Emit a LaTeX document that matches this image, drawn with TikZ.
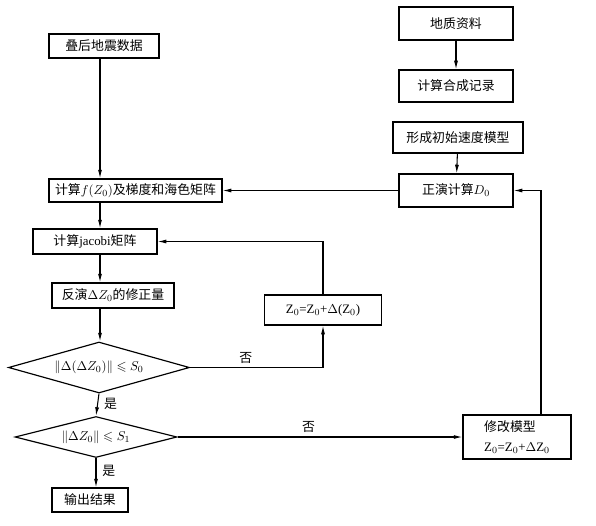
\documentclass[tikz,border=0pt]{standalone}
\usepackage{amsmath,amssymb}
\usepackage{fontspec}
\setmainfont{Liberation Serif}
\newfontfamily\cjk{Noto Sans CJK SC}
\usetikzlibrary{shapes.geometric,arrows.meta}

\begin{document}
\begin{tikzpicture}[
    x=0.03cm, y=-0.03cm,
    box/.style={
      rectangle, draw=black, line width=1pt,
      inner sep=2pt, text centered,
      font=\cjk\fontsize{11}{13}\selectfont
    },
    decision/.style={
      diamond, draw=black, line width=1pt, inner sep=0pt, aspect=3.5,
      font=\fontsize{11}{13}\selectfont
    },
    tag/.style={font=\cjk\fontsize{11}{13}\selectfont, inner sep=1pt},
    arrow/.style={-{Latex[length=2.6mm,width=1.2mm]}, line width=0.9pt}
  ]
  \useasboundingbox (0,0) rectangle (596,525);
  \coordinate (spine) at (100,0);
  \coordinate (rloop) at (541,0);

  % Left column (top to bottom)
  \node[box, minimum width=3.3cm, minimum height=0.72cm] (stack) at (104,46) {叠后地震数据};
  \node[box, minimum width=5.19cm, minimum height=0.69cm] (grad) at (135.5,190.5) {计算$f(Z_0)$及梯度和海色矩阵};
  \node[box, minimum width=3.72cm, minimum height=0.75cm] (jac) at (95,241.5) {计算{\rmfamily jacobi}矩阵};
  \node[box, minimum width=3.66cm, minimum height=0.75cm] (inv) at (113,295.5) {反演$\Delta Z_0$的修正量};
  \node[decision, minimum width=5.43cm, minimum height=1.53cm] (dec1) at (99,367.5) {$\|\Delta(\Delta Z_0)\|\leqslant S_0$};
  \node[decision, minimum width=4.86cm, minimum height=1.23cm] (dec2) at (96,437) {$\|\Delta Z_0\|\leqslant S_1$};
  \node[box, minimum width=2.28cm, minimum height=0.72cm] (out) at (90,500) {输出结果};

  % Inner loop box
  \node[box, minimum width=3.51cm, minimum height=0.9cm] (upd) at (323,310) {\rmfamily Z$_0$=Z$_0$+$\Delta$(Z$_0$)};

  % Right column (top to bottom)
  \node[box, minimum width=3.42cm, minimum height=0.99cm] (geo) at (456,23.5) {地质资料};
  \node[box, minimum width=3.42cm, minimum height=0.96cm] (syn) at (456,86) {计算合成记录};
  \node[box, minimum width=3.9cm, minimum height=0.93cm] (init) at (458,137.5) {形成初始速度模型};
  \node[box, minimum width=3.42cm, minimum height=0.99cm] (fwd) at (456,190.5) {正演计算$D_0$};
  \node[box, minimum width=3.24cm, minimum height=1.32cm, align=left] (mod) at (517,437)
    {修改模型\\[4pt]{\rmfamily Z$_0$=Z$_0$+$\Delta$Z$_0$}};

  % Main flow
  \draw[arrow] (stack.south -| spine) -- (grad.north -| spine);
  \draw[arrow] (grad.south -| spine) -- (jac.north -| spine);
  \draw[arrow] (jac.south -| spine) -- (inv.north -| spine);
  \draw[arrow] (inv.south -| spine) -- (dec1.north -| spine);
  \draw[arrow] (dec1.south) -- node[tag, right=4pt, pos=0.45] {是} (dec2.north);
  \draw[arrow] (dec2.south) -- node[tag, right=4pt, pos=0.42] {是} (dec2.south |- out.north);

  % Inner loop
  \draw[arrow] (dec1.east) -- node[tag, above=2pt, pos=0.42] {否} (dec1.east -| upd.south) -- (upd.south);
  \draw[arrow] (upd.north) |- (jac.east);

  % Right side
  \draw[arrow] (geo) -- (syn);
  \draw[arrow] (init) -- (fwd);
  \draw[arrow] (fwd) -- (grad);
  \draw[arrow] (dec2.east) -- node[tag, above=2pt, pos=0.46] {否} (mod.west);
  \draw[arrow] (mod.north -| rloop) |- (fwd.east);

\end{tikzpicture}
\end{document}
